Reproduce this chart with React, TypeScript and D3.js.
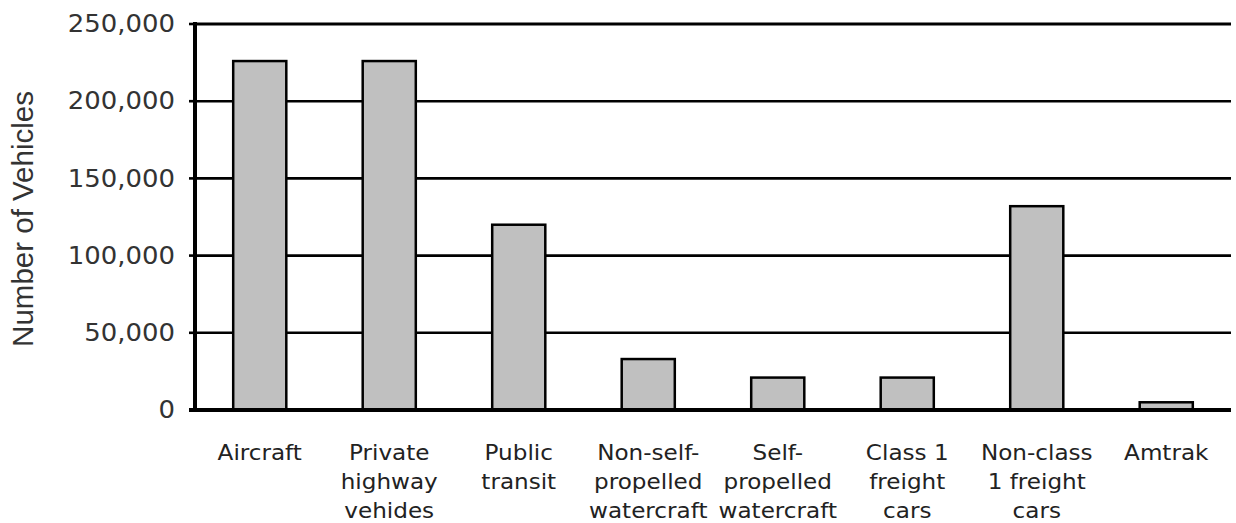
import React, { useEffect, useRef } from "react";
import * as d3 from "d3";

const categories = [
  ["Aircraft"],
  ["Private", "highway", "vehides"],
  ["Public", "transit"],
  ["Non-self-", "propelled", "watercraft"],
  ["Self-", "propelled", "watercraft"],
  ["Class 1", "freight", "cars"],
  ["Non-class", "1 freight", "cars"],
  ["Amtrak"],
];
const vehicles = [226000, 226000, 120000, 33000, 21000, 21000, 132000, 5000];
const yTicks = [0, 50000, 100000, 150000, 200000, 250000];

const App: React.FC = () => {
  const svgRef = useRef<SVGSVGElement>(null);

  useEffect(() => {
    if (!svgRef.current) return;
    const svg = d3.select(svgRef.current);
    svg.selectAll("*").remove();

    const left = 195;
    const right = 1231;
    const top = 24;
    const bottom = 410;

    const keys = categories.map((c) => c.join(" "));

    const x = d3
      .scaleBand()
      .domain(keys)
      .range([left, right])
      .paddingInner(0.59)
      .paddingOuter(0.295);

    const y = d3.scaleLinear().domain([0, 250000]).range([bottom, top]);

    // Gridlines
    svg
      .append("g")
      .selectAll("line")
      .data(yTicks.filter((t) => t > 0))
      .enter()
      .append("line")
      .attr("x1", left)
      .attr("x2", right)
      .attr("y1", (d) => y(d))
      .attr("y2", (d) => y(d))
      .attr("stroke", "#000")
      .attr("stroke-width", (d) => (d === 250000 ? 3 : 2.6));

    // Tick marks
    svg
      .append("g")
      .selectAll("line")
      .data(yTicks)
      .enter()
      .append("line")
      .attr("x1", left - 6)
      .attr("x2", left)
      .attr("y1", (d) => y(d))
      .attr("y2", (d) => y(d))
      .attr("stroke", "#000")
      .attr("stroke-width", 2.6);

    // Tick labels
    const fmt = d3.format(",");
    svg
      .append("g")
      .selectAll("text")
      .data(yTicks)
      .enter()
      .append("text")
      .attr("transform", (d) => `translate(${left - 20},${y(d)}) scale(1.08,1)`)
      .attr("text-anchor", "end")
      .attr("dominant-baseline", "central")
      .style("font-family", "DejaVu Sans, Verdana, sans-serif")
      .style("font-size", "24px")
      .style("fill", "#333")
      .text((d) => fmt(d));

    // Bars
    svg
      .append("g")
      .selectAll("rect")
      .data(vehicles)
      .enter()
      .append("rect")
      .attr("x", (d, i) => x(keys[i]) || 0)
      .attr("y", (d) => y(d))
      .attr("width", x.bandwidth())
      .attr("height", (d) => bottom - y(d))
      .attr("fill", "#c0c0c0")
      .attr("stroke", "#000")
      .attr("stroke-width", 2.5);

    // Axes lines
    svg
      .append("line")
      .attr("x1", left)
      .attr("x2", left)
      .attr("y1", top - 2)
      .attr("y2", bottom + 2)
      .attr("stroke", "#000")
      .attr("stroke-width", 4);
    svg
      .append("line")
      .attr("x1", left - 6)
      .attr("x2", right)
      .attr("y1", bottom)
      .attr("y2", bottom)
      .attr("stroke", "#000")
      .attr("stroke-width", 4);

    // Category labels
    const catG = svg.append("g");
    categories.forEach((lines, i) => {
      const cx = (x(keys[i]) || 0) + x.bandwidth() / 2;
      lines.forEach((line, j) => {
        catG
          .append("text")
          .attr("transform", `translate(${cx},${460 + j * 29}) scale(1.1,1)`)
          .attr("text-anchor", "middle")
          .style("font-family", "DejaVu Sans, Verdana, sans-serif")
          .style("font-size", "21px")
          .style("fill", "#222")
          .text(line);
      });
    });

    // Y axis title
    svg
      .append("text")
      .attr("transform", `translate(33,219) rotate(-90)`)
      .attr("text-anchor", "middle")
      .style("font-family", "Liberation Sans, Arial, sans-serif")
      .style("font-size", "29.5px")
      .style("fill", "#333")
      .text("Number of Vehicles");
  }, []);

  return (
    <div style={{ position: "absolute", left: 0, top: 0 }}>
      <svg ref={svgRef} width={1236} height={523} style={{ display: "block", background: "#fff" }}></svg>
    </div>
  );
};

export default App;
